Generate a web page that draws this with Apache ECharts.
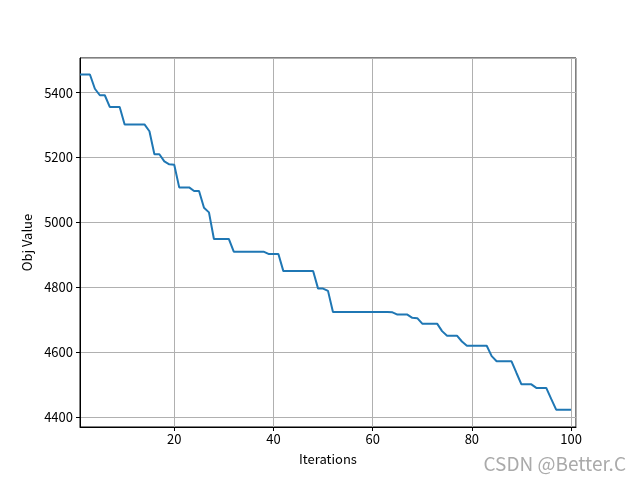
<!DOCTYPE html>
<html>
<head>
<meta charset="utf-8">
<script src="https://cdn.jsdelivr.net/npm/echarts@6/dist/echarts.min.js"></script>
<style>
  * { margin: 0; padding: 0; }
  #chart1 { width: 640px; height: 480px; background: #fff; }
</style>
</head>
<body>
<div id="chart1"></div>
<script>
// objective value per iteration
var objValues = [
  5456, 5456, 5456, 5412, 5392, 5392, 5356, 5356, 5356, 5302,
  5302, 5302, 5302, 5302, 5281, 5210, 5210, 5188, 5179, 5178,
  5108, 5108, 5108, 5097, 5097, 5045, 5031, 4949, 4949, 4949,
  4949, 4910, 4910, 4910, 4910, 4910, 4910, 4910, 4903, 4903,
  4903, 4850, 4850, 4850, 4850, 4850, 4850, 4850, 4796, 4796,
  4789, 4724, 4724, 4724, 4724, 4724, 4724, 4724, 4724, 4724,
  4724, 4724, 4724, 4723, 4716, 4716, 4716, 4706, 4705, 4688,
  4688, 4688, 4688, 4665, 4651, 4651, 4651, 4633, 4620, 4620,
  4620, 4620, 4620, 4588, 4572, 4572, 4572, 4572, 4536, 4501,
  4501, 4501, 4490, 4490, 4490, 4456, 4423, 4423, 4423, 4423
];
var iterations = objValues.map(function (v, k) { return k + 1; });
var xTitle = 'Iterations';
var yTitle = 'Obj Value';
var watermark = 'CSDN @Better.C';

var font = '"Noto Sans CJK SC", sans-serif';
var chart = echarts.init(document.getElementById('chart1'));
var plain = function (v) { return String(v); };
var option = {
  animation: false,
  grid: {
    left: 80, right: 64, top: 58, bottom: 53,
    show: true, borderColor: '#000', borderWidth: 1
  },
  xAxis: {
    type: 'value',
    min: 1, max: 101,
    splitNumber: 5,
    name: xTitle,
    nameLocation: 'middle',
    nameGap: 26,
    nameTextStyle: { color: '#000', fontSize: 13, fontFamily: font },
    axisLine: { show: true, lineStyle: { color: '#000', width: 1 } },
    axisTick: { show: true, inside: false, length: 4, lineStyle: { color: '#000' } },
    axisLabel: { color: '#000', fontSize: 13, fontFamily: font, margin: 6,
                 showMinLabel: false, showMaxLabel: false, formatter: plain },
    splitLine: { show: true, lineStyle: { color: '#b0b0b0', width: 1 } }
  },
  yAxis: {
    type: 'value',
    min: 4369.5, max: 5506.8,
    splitNumber: 5,
    name: yTitle,
    nameLocation: 'middle',
    nameGap: 42,
    nameTextStyle: { color: '#000', fontSize: 13, fontFamily: font },
    axisLine: { show: true, lineStyle: { color: '#000', width: 1 } },
    axisTick: { show: true, inside: false, length: 4, lineStyle: { color: '#000' } },
    axisLabel: { color: '#000', fontSize: 13, fontFamily: font, margin: 7,
                 showMinLabel: false, showMaxLabel: false, formatter: plain },
    splitLine: { show: true, lineStyle: { color: '#b0b0b0', width: 1 } }
  },
  series: [{
    type: 'line',
    data: iterations.map(function (it, k) { return [it, objValues[k]]; }),
    showSymbol: false,
    lineStyle: { color: '#1f77b4', width: 2 },
    itemStyle: { color: '#1f77b4' }
  }],
  graphic: [{
    type: 'text',
    right: 14, bottom: 7,
    style: { text: watermark, fill: '#aaaaaa', fontSize: 19, fontFamily: font }
  }]
};
chart.setOption(option);
</script>
</body>
</html>
